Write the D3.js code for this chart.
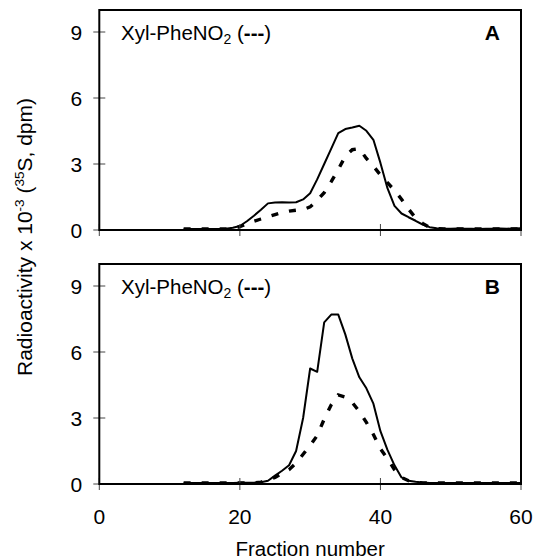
<!DOCTYPE html>
<html>
<head>
<meta charset="utf-8">
<script src="https://cdn.jsdelivr.net/npm/d3@7"></script>
<style>
  body { margin: 0; background: #fff; }
  svg text { font-family: "Liberation Sans", Arial, sans-serif; fill: #000; }
</style>
</head>
<body>
<svg id="chart"></svg>
<script>
// fraction numbers collected from the column
var fractions = [12, 13, 14, 15, 16, 17, 18, 19, 20, 21, 22, 23, 24, 25, 26, 27, 28, 29, 30,
  31, 32, 33, 34, 35, 36, 37, 38, 39, 40, 41, 42, 43, 44, 45, 46, 47, 48, 49, 50,
  51, 52, 53, 54, 55, 56, 57, 58, 59, 60];

// panel A, radioactivity x 10^-3
var solidA = [0.04, 0.04, 0.04, 0.05, 0.05, 0.05, 0.06, 0.1, 0.18, 0.4, 0.65, 0.92, 1.21, 1.25, 1.26, 1.25, 1.26, 1.39, 1.67,
  2.3, 3.0, 3.7, 4.4, 4.59, 4.66, 4.74, 4.51, 4.1, 3.05, 1.9, 1.1, 0.75, 0.58, 0.42, 0.25, 0.13, 0.08, 0.06, 0.06,
  0.07, 0.06, 0.06, 0.05, 0.06, 0.06, 0.07, 0.06, 0.07, 0.08];
var dashedA = [0.05, 0.05, 0.05, 0.05, 0.05, 0.05, 0.05, 0.08, 0.15, 0.28, 0.4, 0.5, 0.6, 0.7, 0.8, 0.86, 0.9, 0.93, 1.05,
  1.35, 1.7, 2.2, 2.75, 3.35, 3.65, 3.7, 3.25, 2.9, 2.5, 2.15, 1.8, 1.4, 0.95, 0.55, 0.3, 0.12, 0.07, 0.05, 0.05,
  0.05, 0.05, 0.05, 0.05, 0.05, 0.05, 0.05, 0.05, 0.05, 0.05];

// panel B
var solidB = [0.04, 0.04, 0.04, 0.05, 0.05, 0.05, 0.05, 0.05, 0.06, 0.06, 0.06, 0.08, 0.15, 0.38, 0.6, 0.85, 1.5, 3.0, 5.25,
  5.1, 7.35, 7.7, 7.7, 6.8, 5.7, 4.85, 4.35, 3.65, 2.4, 1.55, 0.85, 0.3, 0.15, 0.1, 0.07, 0.05, 0.05, 0.04, 0.04,
  0.04, 0.04, 0.04, 0.04, 0.04, 0.04, 0.04, 0.04, 0.04, 0.04];
var dashedB = [0.05, 0.05, 0.05, 0.05, 0.05, 0.05, 0.05, 0.05, 0.05, 0.05, 0.05, 0.08, 0.18, 0.3, 0.48, 0.65, 0.95, 1.35, 1.75,
  2.2, 2.95, 3.6, 4.05, 3.95, 3.7, 3.3, 2.8, 2.25, 1.6, 1.15, 0.65, 0.3, 0.15, 0.08, 0.05, 0.05, 0.05, 0.05, 0.05,
  0.05, 0.05, 0.05, 0.05, 0.05, 0.05, 0.05, 0.05, 0.05, 0.05];

var xTicks = [0, 20, 40, 60];
var yTicks = [0, 3, 6, 9];
var panelLetters = ["A", "B"];

var width = 535,
  height = 559;

var svg = d3.select("#chart").attr("width", width).attr("height", height);

// shared x scale
var x = d3.scaleLinear().domain([0, 60]).range([99.3, 521]);

function drawPanel(top, solid, dashed, letter, showXLabels) {
  var y = d3.scaleLinear().domain([0, 10]).range([top + 220, top]);
  var g = svg.append("g");

  var line = d3
    .line()
    .x(function (d, i) { return x(fractions[i]); })
    .y(function (d) { return y(d); });

  // dashed curve first so the solid sits on top
  g.append("path")
    .datum(dashed)
    .attr("d", line)
    .attr("fill", "none")
    .attr("stroke", "#000")
    .attr("stroke-width", 3.4)
    .attr("stroke-dasharray", "7,11");

  g.append("path")
    .datum(solid)
    .attr("d", line)
    .attr("fill", "none")
    .attr("stroke", "#000")
    .attr("stroke-width", 2)
    .attr("stroke-linejoin", "round");

  // ticks cross the axis lines
  g.selectAll(".ytick")
    .data(yTicks)
    .join("line")
    .attr("x1", x(0) - 6)
    .attr("x2", x(0) + 6)
    .attr("y1", function (d) { return y(d); })
    .attr("y2", function (d) { return y(d); })
    .attr("stroke", "#444")
    .attr("stroke-width", 1);

  g.selectAll(".xtick")
    .data(xTicks)
    .join("line")
    .attr("x1", function (d) { return x(d); })
    .attr("x2", function (d) { return x(d); })
    .attr("y1", y(0) - 6)
    .attr("y2", y(0) + 6)
    .attr("stroke", "#444")
    .attr("stroke-width", 1);

  // frame
  g.append("rect")
    .attr("x", x(0))
    .attr("y", y(10))
    .attr("width", x(60) - x(0))
    .attr("height", y(0) - y(10))
    .attr("fill", "none")
    .attr("stroke", "#000")
    .attr("stroke-width", 2);

  g.selectAll(".ylab")
    .data(yTicks)
    .join("text")
    .attr("x", x(0) - 17)
    .attr("y", function (d) { return y(d) + 7.5; })
    .attr("text-anchor", "end")
    .attr("font-size", 21)
    .text(function (d) { return d; });

  if (showXLabels) {
    g.selectAll(".xlab")
      .data(xTicks)
      .join("text")
      .attr("x", function (d) { return x(d); })
      .attr("y", y(0) + 40)
      .attr("text-anchor", "middle")
      .attr("font-size", 21)
      .text(function (d) { return d; });
  }

  var lab = g.append("text")
    .attr("x", 121)
    .attr("y", top + 29.5)
    .attr("font-size", 20.5);
  lab.append("tspan").text("Xyl-PheNO");
  lab.append("tspan").attr("font-size", 14).attr("dy", 4).text("2");
  lab.append("tspan").attr("dy", -4).text(" (");
  lab.append("tspan").attr("font-weight", "bold").text("---");
  lab.append("tspan").text(")");

  g.append("text")
    .attr("x", 500)
    .attr("y", top + 30)
    .attr("text-anchor", "end")
    .attr("font-size", 21)
    .attr("font-weight", "bold")
    .text(letter);
}

drawPanel(10, solidA, dashedA, panelLetters[0], false);
drawPanel(264, solidB, dashedB, panelLetters[1], true);

// axis titles
svg.append("text")
  .attr("x", x(30))
  .attr("y", 556)
  .attr("text-anchor", "middle")
  .attr("font-size", 20.5)
  .text("Fraction number");

var yt = svg.append("text")
  .attr("transform", "translate(32,237) rotate(-90)")
  .attr("text-anchor", "middle")
  .attr("font-size", 21);
yt.append("tspan").text("Radioactivity x 10");
yt.append("tspan").attr("font-size", 13.5).attr("dy", -8).text("-3");
yt.append("tspan").attr("dy", 8).text(" (");
yt.append("tspan").attr("font-size", 13.5).attr("dy", -8).text("35");
yt.append("tspan").attr("dy", 8).text("S, dpm)");
</script>
</body>
</html>
